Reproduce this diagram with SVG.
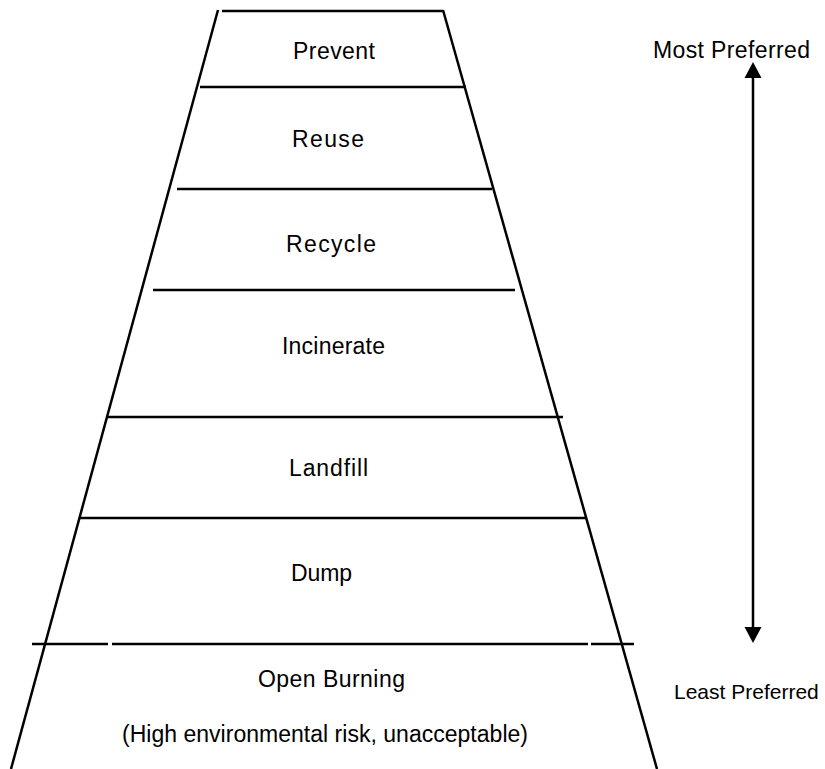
<svg xmlns="http://www.w3.org/2000/svg" width="825" height="769" viewBox="0 0 825 769">
<style>
.ln{stroke:#000;stroke-width:2.5;fill:none}
.t{font-family:"Liberation Sans",Arial,sans-serif;font-size:23px;fill:#000}
.ah{fill:#000}
</style>
<rect width="825" height="769" fill="#fff"/>
<g id="frame">
<line class="ln" x1="218" y1="10" x2="11" y2="769"/>
<line class="ln" x1="443" y1="10" x2="657" y2="769"/>
<line class="ln" x1="222" y1="11" x2="443" y2="11"/>
</g>
<g id="connectors">
<line class="ln" x1="200" y1="87" x2="466" y2="87"/>
<line class="ln" x1="177" y1="189" x2="492" y2="189"/>
<line class="ln" x1="153" y1="290" x2="515" y2="290"/>
<line class="ln" x1="107" y1="417" x2="563" y2="417"/>
<line class="ln" x1="80" y1="518" x2="586" y2="518"/>
<line class="ln" x1="32" y1="644" x2="108" y2="644"/>
<line class="ln" x1="112" y1="644" x2="588" y2="644"/>
<line class="ln" x1="591" y1="644" x2="634" y2="644"/>
<line class="ln" x1="753" y1="75" x2="753" y2="630"/>
<polygon class="ah" points="753,62 744.5,78 761.5,78"/>
<polygon class="ah" points="753,643 744.5,627 761.5,627"/>
</g>
<g id="prevent"><text class="t" x="293" y="59" textLength="82" lengthAdjust="spacing">Prevent</text></g>
<g id="reuse"><text class="t" x="292" y="147" textLength="72" lengthAdjust="spacing">Reuse</text></g>
<g id="recycle"><text class="t" x="286" y="252" textLength="90" lengthAdjust="spacing">Recycle</text></g>
<g id="incinerate"><text class="t" x="282" y="354" textLength="103" lengthAdjust="spacing">Incinerate</text></g>
<g id="landfill"><text class="t" x="289" y="476" textLength="79" lengthAdjust="spacing">Landfill</text></g>
<g id="dump"><text class="t" x="291" y="581" textLength="61" lengthAdjust="spacing">Dump</text></g>
<g id="open-burning">
<text class="t" x="258" y="687" textLength="147" lengthAdjust="spacing">Open Burning</text>
<text class="t" x="122" y="742" textLength="406" lengthAdjust="spacing">(High environmental risk, unacceptable)</text>
</g>
<g id="most-preferred"><text class="t" x="653" y="58" textLength="157" lengthAdjust="spacing">Most Preferred</text></g>
<g id="least-preferred"><text class="t" x="674" y="699" style="font-size:21px">Least Preferred</text></g>
</svg>
